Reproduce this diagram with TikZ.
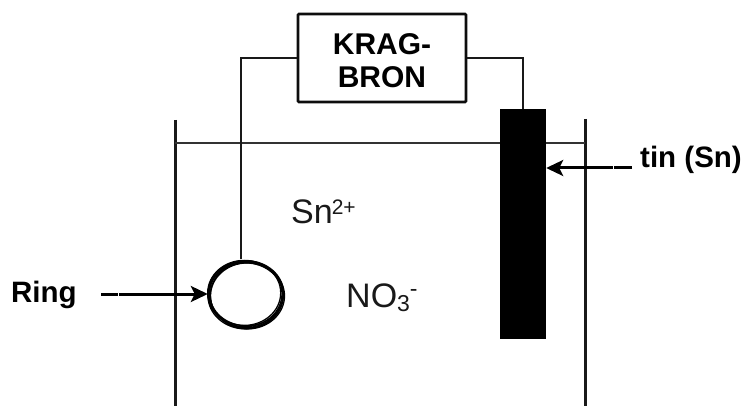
\documentclass[tikz,border=0pt]{standalone}
\usepackage{fontspec}
\setmainfont{Liberation Sans}
\usetikzlibrary{arrows.meta}
\tikzset{
  x=1pt,y=-1pt,
  wire/.style={line width=2.6pt,black!90},
  tank/.style={line width=3pt,black!90},
  liquid/.style={line width=2.3pt,black!80},
  callout/.style={line width=3pt,black,-{Stealth[length=17pt,width=16pt,inset=4pt]}},
  gapmark/.style={line width=3.4pt,white},
  boldlabel/.style={font=\fontsize{29.5}{33}\selectfont\bfseries,inner sep=0pt,anchor=base west},
  ionlabel/.style={font=\fontsize{34}{36}\selectfont,inner sep=0pt,anchor=base west,text=black!90},
  coil/.style={line width=1.3pt,black},
}
\begin{document}
\begin{tikzpicture}
\useasboundingbox (0,0) rectangle (744,406);
% tank
\coordinate (tlT) at (175,120); \coordinate (tlB) at (175,406);
\coordinate (trT) at (585,119); \coordinate (trB) at (585,406);
\coordinate (liqL) at (175,143); \coordinate (liqR) at (585,143);
\draw[tank] (tlT) -- (tlB);
\draw[tank] (trT) -- (trB);
\draw[liquid] (liqL) -- (liqR);
% electrode
\node[fill=black,draw=none,minimum width=46pt,minimum height=230pt,inner sep=0pt] (tin) at (523,224) {};
% ring
\foreach \dx/\dy/\r/\s in {0/0/37/33,-1.8/-1.6/36.5/32.5,-1/-0.8/37/33,1.5/1.4/37/33,0.8/0.7/36.5/33,-0.5/1.4/37.5/33,0.5/-1.2/37/32.5}
  \draw[coil] (246+\dx,294.5+\dy) ellipse [x radius=\r,y radius=\s];
\node[circle,minimum size=76pt,inner sep=0pt] (ring) at (246,294.5) {};
% instrument
\node[draw=black!95,line width=2.6pt,rounded corners=1pt,minimum width=168pt,minimum height=88pt,inner sep=0pt,
      align=center,font=\fontsize{30}{33}\selectfont\bfseries] (krag) at (382,58)
      {\rule{0pt}{27pt}KRAG-\\BRON};
\coordinate (wireL) at (241,58); \coordinate (wireLd) at (241,259);
\coordinate (wireR) at (523,58);
\draw[wire] (krag.west |- wireL) -- (wireL) -- (wireLd);
\draw[wire] (krag.east |- wireR) -- (wireR) -- (tin.north);
% labels
\node[boldlabel] (ringlab) at (11,302) {Ring};
\node[boldlabel] (tinlab) at (640,168) {tin (Sn)};
\node[ionlabel] (snion) at (291,224) {Sn\textsuperscript{\fontsize{21}{21}\selectfont\kern-1pt 2+}};
\node[ionlabel] (noion) at (346,307) {NO\raisebox{-4pt}{\fontsize{23}{23}\selectfont 3}\raisebox{11pt}{\fontsize{23}{23}\selectfont -}};
% arrows
\coordinate (ringtail) at (101,294);
\coordinate (tintail) at (632,168);
\coordinate (ringgapA) at (117.5,294); \coordinate (ringgapB) at (118.8,294);
\coordinate (tingapA) at (613,168); \coordinate (tingapB) at (614.3,168);
\draw[callout] (ringtail) -- (ring.west |- ringtail);
\draw[callout] (tintail) -- (tin.east |- tintail);
\draw[gapmark] (ringgapA) -- (ringgapB);
\draw[gapmark] (tingapA) -- (tingapB);
\end{tikzpicture}
\end{document}
